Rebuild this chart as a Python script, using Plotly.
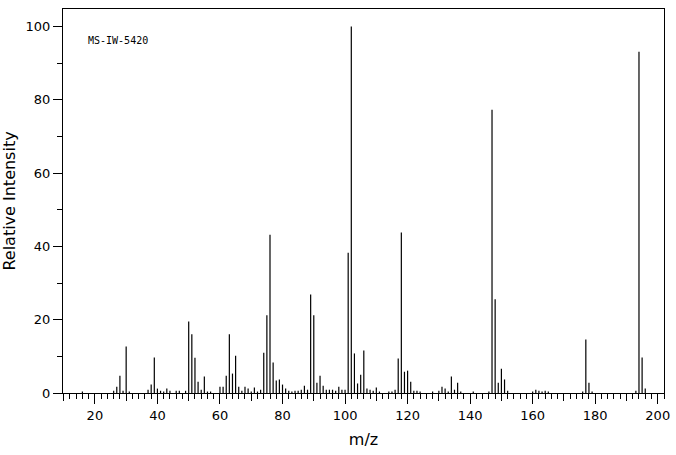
import plotly.graph_objects as go

mz = [16, 26, 27, 28, 29, 30, 31, 37, 38, 39, 40, 41, 42, 43, 44, 46, 47, 49,
      50, 51, 52, 53, 54, 55, 56, 57, 60, 61, 62, 63, 64, 65, 66, 67, 68, 69,
      70, 71, 72, 73, 74, 75, 76, 77, 78, 79, 80, 81, 82, 83, 84, 85, 86, 87,
      88, 89, 90, 91, 92, 93, 94, 95, 96, 97, 98, 99, 100, 101, 102, 103, 104,
      105, 106, 107, 108, 109, 110, 111, 114, 115, 116, 117, 118, 119, 120, 121,
      122, 123, 124, 128, 130, 131, 132, 133, 134, 135, 136, 137, 141, 146, 147,
      148, 149, 150, 151, 152, 160, 161, 162, 163, 164, 165, 176, 177, 178, 179,
      193, 194, 195, 196]
intensity = [0.4, 0.6, 1.7, 4.7, 0.6, 12.7, 0.4, 0.9, 2.3, 9.7, 1.2, 0.6, 0.4, 1.2, 0.6, 0.6, 0.6, 0.6,
             19.5, 16.0, 9.6, 3.1, 0.9, 4.5, 0.4, 0.4, 1.7, 1.7, 4.7, 16.0, 5.3, 10.2, 1.7, 0.6, 1.7, 1.2,
             0.4, 1.5, 0.4, 0.9, 11.0, 21.2, 43.2, 8.3, 3.4, 3.7, 2.3, 1.2, 0.6, 0.4, 0.6, 0.6, 0.9, 2.0,
             0.9, 26.9, 21.2, 2.8, 4.7, 2.0, 0.9, 0.9, 0.9, 0.6, 1.7, 0.9, 0.9, 38.3, 100.0, 10.8, 2.6,
             5.0, 11.6, 1.2, 0.9, 0.6, 1.5, 0.4, 0.4, 0.4, 0.9, 9.4, 43.8, 5.8, 6.1, 3.1,
             0.6, 0.6, 0.4, 0.4, 0.6, 1.7, 1.2, 0.4, 4.5, 0.9, 2.8, 0.4, 0.4, 0.4, 77.3,
             25.6, 2.8, 6.6, 3.7, 0.6, 0.4, 0.9, 0.6, 0.4, 0.6, 0.4, 0.4, 14.6, 2.8, 0.4,
             0.6, 93.1, 9.7, 1.2]

x_ticks = [20, 40, 60, 80, 100, 120, 140, 160, 180, 200]
y_ticks = [0, 20, 40, 60, 80, 100]
label_text = "MS-IW-5420"
x_title = "m/z"
y_title = "Relative Intensity"

xr = [9.8, 202]
yr = [0, 104.8]

xs, ys = [], []
for m, v in zip(mz, intensity):
    xs += [m, m, None]
    ys += [0, v, None]

fig = go.Figure()
fig.add_trace(go.Scatter(x=xs, y=ys, mode="lines",
                         line=dict(color="black", width=1.2),
                         hoverinfo="skip", showlegend=False))
# helper invisible trace on second x axis for the medium (every-10) ticks
fig.add_trace(go.Scatter(x=[xr[0]], y=[0], xaxis="x2", mode="markers",
                         marker=dict(opacity=0), showlegend=False, hoverinfo="skip"))

font = "DejaVu Sans, Arial, sans-serif"
fig.update_layout(
    width=676, height=455,
    margin=dict(l=63, r=12, t=9, b=62),
    plot_bgcolor="white", paper_bgcolor="white",
    font=dict(family=font, color="black", size=13),
    xaxis=dict(range=xr, tickvals=x_ticks, ticks="outside", ticklen=10,
               tickwidth=1, tickcolor="black", automargin=False,
               showline=True, linecolor="black", linewidth=1, mirror=True,
               showgrid=False, zeroline=False,
               tickfont=dict(size=13, family=font),
               minor=dict(dtick=2, tick0=0, ticks="outside", ticklen=5,
                          tickcolor="black", tickwidth=1, showgrid=False),
               title=dict(text=x_title, font=dict(size=16, family=font), standoff=12)),
    xaxis2=dict(range=xr, overlaying="x", side="bottom", anchor="y",
                tick0=0, dtick=10, ticks="outside", ticklen=7, tickwidth=1,
                tickcolor="black", showticklabels=False, showgrid=False,
                zeroline=False, showline=False, automargin=False),
    yaxis=dict(range=yr, tickvals=y_ticks, ticks="outside", ticklen=9,
               tickwidth=1, tickcolor="black", automargin=False,
               showline=True, linecolor="black", linewidth=1, mirror=True,
               showgrid=False, zeroline=False,
               tickfont=dict(size=13, family=font),
               minor=dict(dtick=10, tick0=0, ticks="outside", ticklen=5,
                          tickcolor="black", tickwidth=1, showgrid=False),
               title=dict(text=y_title, font=dict(size=16, family=font), standoff=6)),
    annotations=[dict(text=label_text, xref="paper", yref="paper",
                      x=0.038, y=0.918, xanchor="left", yanchor="middle",
                      showarrow=False,
                      font=dict(family="DejaVu Sans Mono, monospace", size=10, color="black"))],
)

fig.write_html("out.html")
